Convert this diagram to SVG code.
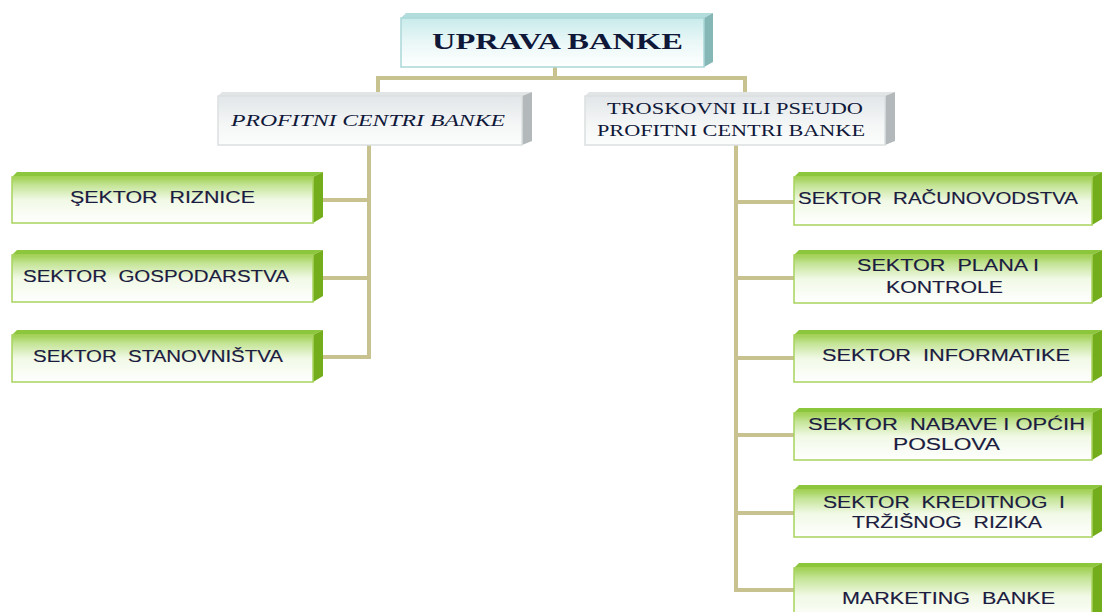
<svg xmlns="http://www.w3.org/2000/svg" width="1102" height="612" viewBox="0 0 1102 612">
  <defs>
    <linearGradient id="gGreen" x1="0" y1="0" x2="0" y2="1">
      <stop offset="0" stop-color="#9fd052"/>
      <stop offset="0.18" stop-color="#c4e496"/>
      <stop offset="0.5" stop-color="#f1f9e6"/>
      <stop offset="1" stop-color="#ffffff"/>
    </linearGradient>
    <linearGradient id="gCyan" x1="0" y1="0" x2="0" y2="1">
      <stop offset="0" stop-color="#c9ebeb"/>
      <stop offset="0.5" stop-color="#eaf7f7"/>
      <stop offset="1" stop-color="#ffffff"/>
    </linearGradient>
    <linearGradient id="gGrey" x1="0" y1="0" x2="0" y2="1">
      <stop offset="0" stop-color="#e2e6e8"/>
      <stop offset="0.6" stop-color="#f5f7f7"/>
      <stop offset="1" stop-color="#fbfcfc"/>
    </linearGradient>
    <style>
      .gfront{fill:url(#gGreen);stroke:#a8d35e;stroke-width:1.5}
      .gtop{fill:#8cc63d}
      .gside{fill:#74ad1c}
      .cfront{fill:url(#gCyan);stroke:#aad7d7;stroke-width:1.5}
      .ctop{fill:#b3dcdc}
      .cside{fill:#86b7b7}
      .wfront{fill:url(#gGrey);stroke:#dce0e1;stroke-width:1.5}
      .wtop{fill:#e1e5e6}
      .wside{fill:#b3b8ba}
      .conn{fill:none;stroke:#c8c290;stroke-width:4;stroke-linejoin:miter}
      .sans{font-family:"Liberation Sans",Arial,sans-serif;font-size:16px;fill:#1b1b40;text-anchor:start;stroke:#1b1b40;stroke-width:0.15;white-space:pre}
      .serif{font-family:"Liberation Serif","Times New Roman",serif;fill:#10183a;text-anchor:start}
    </style>
  </defs>
  <rect width="1102" height="612" fill="#ffffff"/>

  <g id="connectors">
    <path class="conn" d="M555,67 V78 M378,78 H745 M378,76 V92 M745,76 V92"/>
    <path class="conn" d="M369,145 V359 M323,200 H371 M323,278 H371 M323,357 H371"/>
    <path class="conn" d="M736,145 V592 M734,202 H795 M734,278 H795 M734,358 H795 M734,435 H795 M734,513 H795 M734,590 H795"/>
  </g>

  <g id="uprava">
    <polygon class="ctop" points="401,18 406,13 713,13 704,18"/>
    <polygon class="cside" points="704,18 713,13 713,62 704,67"/>
    <rect class="cfront" x="401" y="18" width="303" height="49"/>
    <text class="serif" x="432" y="49" font-size="24" font-weight="bold" textLength="251" lengthAdjust="spacingAndGlyphs">UPRAVA BANKE</text>
  </g>

  <g id="profitni">
    <polygon class="wtop" points="218,96 222,92 532,92 522,96"/>
    <polygon class="wside" points="522,96 532,92 532,141 522,145"/>
    <rect class="wfront" x="218" y="96" width="304" height="49"/>
    <text class="serif" x="231" y="126" font-size="17" font-style="italic" textLength="274" lengthAdjust="spacingAndGlyphs">PROFITNI CENTRI BANKE</text>
  </g>

  <g id="troskovni">
    <polygon class="wtop" points="585,96 589,92 895,92 885,96"/>
    <polygon class="wside" points="885,96 895,92 895,141 885,145"/>
    <rect class="wfront" x="585" y="96" width="300" height="49"/>
    <text class="serif" x="607" y="114" font-size="17" textLength="256" lengthAdjust="spacingAndGlyphs">TROSKOVNI ILI PSEUDO</text>
    <text class="serif" x="597" y="136" font-size="17" textLength="268" lengthAdjust="spacingAndGlyphs">PROFITNI CENTRI BANKE</text>
  </g>

  <g id="riznice">
    <polygon class="gtop" points="12,177 17,172 323,172 313,177"/>
    <polygon class="gside" points="313,177 323,172 323,217 313,223"/>
    <rect class="gfront" x="12" y="177" width="301" height="46"/>
    <text class="sans" x="70" y="203" textLength="185" lengthAdjust="spacingAndGlyphs">ŞEKTOR  RIZNICE</text>
  </g>

  <g id="gospodarstva">
    <polygon class="gtop" points="12,255 17,250 323,250 313,255"/>
    <polygon class="gside" points="313,255 323,250 323,296 313,302"/>
    <rect class="gfront" x="12" y="255" width="301" height="47"/>
    <text class="sans" x="23" y="282" textLength="266" lengthAdjust="spacingAndGlyphs">SEKTOR  GOSPODARSTVA</text>
  </g>

  <g id="stanovnistva">
    <polygon class="gtop" points="12,335 17,330 323,330 313,335"/>
    <polygon class="gside" points="313,335 323,330 323,376 313,382"/>
    <rect class="gfront" x="12" y="335" width="301" height="47"/>
    <text class="sans" x="33" y="362" textLength="250" lengthAdjust="spacingAndGlyphs">SEKTOR  STANOVNIŠTVA</text>
  </g>

  <g id="racunovodstva">
    <polygon class="gtop" points="794,177 799,172 1102,172 1092,177"/>
    <polygon class="gside" points="1092,177 1102,172 1102,219 1092,225"/>
    <rect class="gfront" x="794" y="177" width="298" height="48"/>
    <text class="sans" x="798" y="204" textLength="280" lengthAdjust="spacingAndGlyphs">SEKTOR  RAČUNOVODSTVA</text>
  </g>

  <g id="plana">
    <polygon class="gtop" points="794,255 799,250 1102,250 1092,255"/>
    <polygon class="gside" points="1092,255 1102,250 1102,297 1092,303"/>
    <rect class="gfront" x="794" y="255" width="298" height="48"/>
    <text class="sans" x="857" y="271" textLength="182" lengthAdjust="spacingAndGlyphs">SEKTOR  PLANA I</text>
    <text class="sans" x="886" y="293" textLength="117" lengthAdjust="spacingAndGlyphs">KONTROLE</text>
  </g>

  <g id="informatike">
    <polygon class="gtop" points="794,335 799,330 1102,330 1092,335"/>
    <polygon class="gside" points="1092,335 1102,330 1102,376 1092,382"/>
    <rect class="gfront" x="794" y="335" width="298" height="47"/>
    <text class="sans" x="822" y="361" textLength="248" lengthAdjust="spacingAndGlyphs">SEKTOR  INFORMATIKE</text>
  </g>

  <g id="nabave">
    <polygon class="gtop" points="794,413 799,408 1102,408 1092,413"/>
    <polygon class="gside" points="1092,413 1102,408 1102,454 1092,460"/>
    <rect class="gfront" x="794" y="413" width="298" height="47"/>
    <text class="sans" x="808" y="430" textLength="277" lengthAdjust="spacingAndGlyphs">SEKTOR  NABAVE I OPĆIH</text>
    <text class="sans" x="893" y="450" textLength="107" lengthAdjust="spacingAndGlyphs">POSLOVA</text>
  </g>

  <g id="kreditnog">
    <polygon class="gtop" points="794,490 799,485 1102,485 1092,490"/>
    <polygon class="gside" points="1092,490 1102,485 1102,531 1092,537"/>
    <rect class="gfront" x="794" y="490" width="298" height="47"/>
    <text class="sans" x="823" y="508" textLength="242" lengthAdjust="spacingAndGlyphs">SEKTOR  KREDITNOG  I</text>
    <text class="sans" x="852" y="528" textLength="190" lengthAdjust="spacingAndGlyphs">TRŽIŠNOG  RIZIKA</text>
  </g>

  <g id="marketing">
    <polygon class="gtop" points="794,568 799,563 1102,563 1092,568"/>
    <polygon class="gside" points="1092,568 1102,563 1102,620 1092,624"/>
    <rect class="gfront" x="794" y="568" width="298" height="56"/>
    <text class="sans" x="842" y="604" textLength="213" lengthAdjust="spacingAndGlyphs">MARKETING  BANKE</text>
  </g>
</svg>
